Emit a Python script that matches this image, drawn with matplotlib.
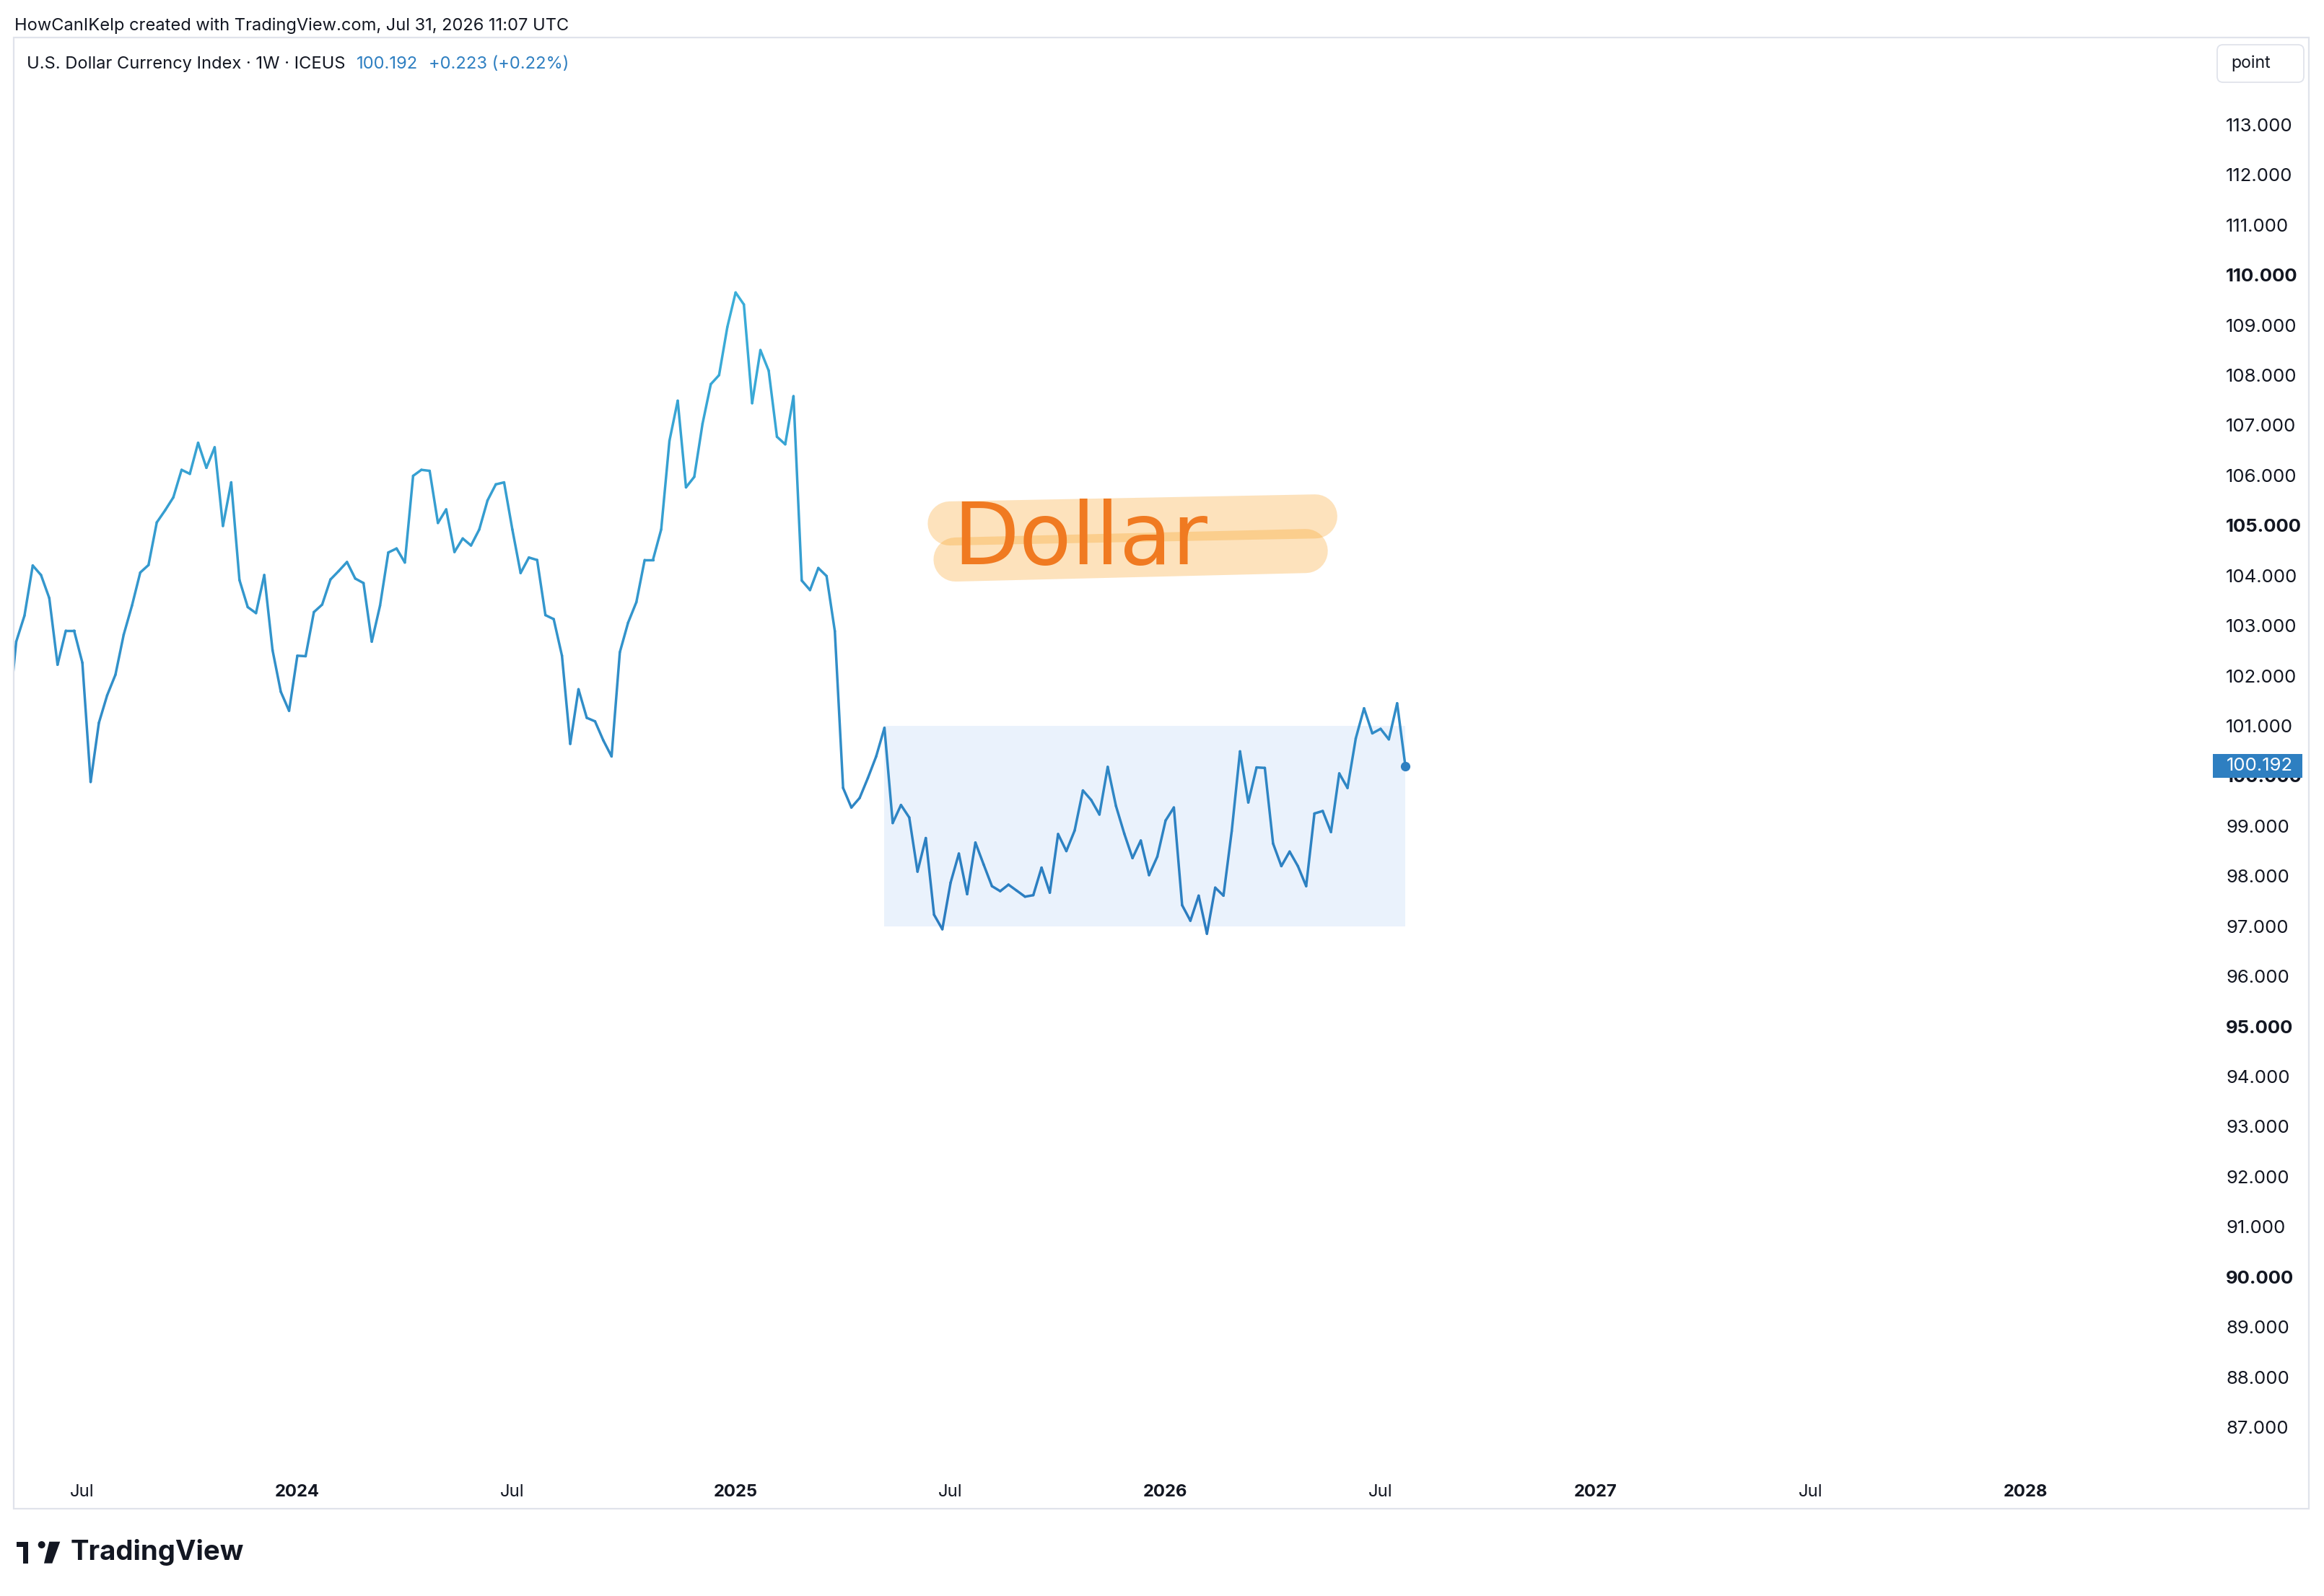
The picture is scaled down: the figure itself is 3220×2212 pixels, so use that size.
import numpy as np
import pandas as pd
import matplotlib
matplotlib.use("Agg")
import matplotlib.pyplot as plt
import matplotlib.dates as mdates
from matplotlib.collections import LineCollection
from matplotlib.colors import LinearSegmentedColormap
from matplotlib.patches import Rectangle, FancyBboxPatch, Polygon, Circle
from matplotlib.transforms import IdentityTransform

plt.rcParams['font.family'] = ['Inter', 'DejaVu Sans']

# ---------------- data ----------------
start_week = "2023-05-01"          # weekly bars (Mondays)
dxy_close = [
    101.03, 102.68, 103.20, 104.20, 104.01, 103.55, 102.22, 102.90, 102.90, 102.26,
    99.88, 101.06, 101.61, 102.02, 102.82, 103.40, 104.06, 104.21, 105.06, 105.30,
    105.56, 106.11, 106.03, 106.65, 106.15, 106.56, 104.99, 105.86, 103.91, 103.37,
    103.25, 104.01, 102.51, 101.68, 101.30, 102.40, 102.39, 103.27, 103.42, 103.92,
    104.09, 104.27, 103.94, 103.85, 102.68, 103.40, 104.46, 104.54, 104.26, 105.99,
    106.11, 106.09, 105.05, 105.32, 104.47, 104.74, 104.60, 104.92, 105.50, 105.82,
    105.86, 104.92, 104.05, 104.36, 104.31, 103.21, 103.13, 102.40, 100.64, 101.73,
    101.16, 101.09, 100.71, 100.39, 102.47, 103.06, 103.47, 104.31, 104.31, 104.92,
    106.69, 107.49, 105.76, 105.97, 107.03, 107.82, 108.00, 108.96, 109.65, 109.41,
    107.44, 108.50, 108.09, 106.77, 106.62, 107.58, 103.90, 103.71, 104.15, 103.99,
    102.89, 99.76, 99.37, 99.56, 99.96, 100.39, 100.96, 99.06, 99.42, 99.17,
    98.09, 98.76, 97.23, 96.94, 97.87, 98.45, 97.64, 98.67, 98.23, 97.80,
    97.70, 97.83, 97.71, 97.59, 97.62, 98.17, 97.67, 98.84, 98.50, 98.91,
    99.71, 99.52, 99.23, 100.18, 99.40, 98.85, 98.36, 98.71, 98.02, 98.39,
    99.11, 99.37, 97.42, 97.11, 97.61, 96.85, 97.77, 97.61, 98.90, 100.49,
    99.47, 100.17, 100.16, 98.65, 98.20, 98.49, 98.20, 97.80, 99.25, 99.30,
    98.88, 100.05, 99.76, 100.75, 101.35, 100.85, 100.94, 100.73, 101.45, 100.192,
]
last_price = "100.192"
change_text = "+0.223 (+0.22%)"
title_text = "U.S. Dollar Currency Index · 1W · ICEUS"
header_text = "HowCanIKelp created with TradingView.com, Jul 31, 2026 11:07 UTC"

range_box_start = "2025-05-12"
range_box_end = "2026-07-27"
range_box_low = 97.0
range_box_high = 101.0

y_ticks = list(range(87, 114))
x_tick_dates = ["2023-07-01", "2024-01-01", "2024-07-01", "2025-01-01", "2025-07-01",
                "2026-01-01", "2026-07-01", "2027-01-01", "2027-07-01", "2028-01-01"]
x_tick_labels = ["Jul", "2024", "Jul", "2025", "Jul", "2026", "Jul", "2027", "Jul", "2028"]

# ---------------- figure ----------------
W, H, DPI = 3220, 2212, 100
fig = plt.figure(figsize=(W / DPI, H / DPI), dpi=DPI, facecolor='white')
PX = IdentityTransform()
TXT = '#131722'
BLUE = '#2E7FC1'
renderer = fig.canvas.get_renderer()


def py(y):
    return H - y


def size_for(s, width_px, weight='normal', base=17.0):
    t = fig.text(0, 0, s, fontsize=base, fontweight=weight)
    w = t.get_window_extent(renderer).width
    t.remove()
    return base * width_px / w if w > 0 else base


def fit(t, width_px):
    bb = t.get_window_extent(renderer)
    if bb.width > 0:
        t.set_fontsize(t.get_fontsize() * width_px / bb.width)


ytick_fs = size_for("113.000", 93)
xtick_fs = size_for("2024", 62, weight='bold')

ax_left, ax_right, ax_top, ax_bottom = 20, 3062, 53, 2035
ax = fig.add_axes([ax_left / W, 1 - ax_bottom / H, (ax_right - ax_left) / W, (ax_bottom - ax_top) / H])
ax.set_facecolor('white')
for s in ax.spines.values():
    s.set_visible(False)

dates = pd.date_range(start_week, periods=len(dxy_close), freq='W-MON')
xn = mdates.date2num(dates.to_pydatetime())
yv = np.array(dxy_close, dtype=float)
week0 = xn[1]


def idx(i):
    return week0 + 7.0 * i


# range rectangle
bx0 = mdates.date2num(pd.Timestamp(range_box_start).to_pydatetime())
bx1 = mdates.date2num(pd.Timestamp(range_box_end).to_pydatetime())
ax.add_patch(Rectangle((bx0, range_box_low), bx1 - bx0, range_box_high - range_box_low,
                       facecolor='#EAF2FC', edgecolor='none', zorder=1))

# gradient line
pts = np.column_stack([xn, yv])
segs = np.stack([pts[:-1], pts[1:]], axis=1)
mid = (yv[:-1] + yv[1:]) / 2
cmap = LinearSegmentedColormap.from_list('tv', ['#2B7BBF', '#3BAFD9'])
norm = plt.Normalize(yv.min(), yv.max())
lc = LineCollection(segs, colors=cmap(norm(mid)), linewidths=2.5,
                    capstyle='round', joinstyle='round', zorder=3)
ax.add_collection(lc)
ax.plot(xn[-1], yv[-1], 'o', color=BLUE, ms=8.5, zorder=4, clip_on=False)

# highlighter strokes + handwritten label
HL = '#F9A123'
ax.plot([idx(112.9), idx(157.1)], [105.04, 105.18], color=HL, alpha=0.3, lw=44,
        solid_capstyle='round', zorder=2)
ax.plot([idx(113.6), idx(155.95)], [104.32, 104.49], color=HL, alpha=0.3, lw=44,
        solid_capstyle='round', zorder=2)
dollar = ax.text(idx(128.7), 104.70, "Dollar", color='#F07A21', ha='center', va='center',
                 fontsize=70, family=['DejaVu Sans'], fontweight='normal', zorder=5)

# axes limits / ticks
ax.set_xlim(idx(-0.214), idx(265.3))
ax.set_ylim(86.18, 114.725)
ax.set_yticks(y_ticks)
ax.set_yticklabels([f"{v:.3f}" for v in y_ticks])
ax.yaxis.tick_right()
ax.tick_params(axis='y', length=0, pad=22 * 0.72, labelsize=ytick_fs, labelcolor=TXT)
for lab, v in zip(ax.get_yticklabels(), y_ticks):
    if v % 5 == 0:
        lab.set_fontweight('bold')

tick_pos = []
for d in x_tick_dates:
    t = pd.Timestamp(d)
    t = t + pd.Timedelta(days=(7 - t.weekday()) % 7)
    tick_pos.append(mdates.date2num(t.to_pydatetime()))
ax.set_xticks(tick_pos)
ax.set_xticklabels(x_tick_labels)
ax.tick_params(axis='x', length=0, pad=16, labelsize=xtick_fs, labelcolor=TXT)
for lab, t in zip(ax.get_xticklabels(), x_tick_labels):
    if t.isdigit():
        lab.set_fontweight('bold')
ax.grid(False)

# ---------------- decorations ----------------
fig.add_artist(Rectangle((19, py(2091)), 3180, 2039, transform=PX, fill=False,
                         edgecolor='#E0E3EB', lw=1.6, zorder=0.5))

hdr = fig.text(20, py(36), header_text, transform=PX, ha='left', va='center',
               fontsize=18.5, color=TXT)
ttl = fig.text(37, py(89), title_text, transform=PX, ha='left', va='center',
               fontsize=18, color=TXT)
val1 = fig.text(494, py(89), last_price, transform=PX, ha='left', va='center',
                fontsize=18, color=BLUE)
val2 = fig.text(594, py(89), change_text, transform=PX, ha='left', va='center',
                fontsize=18, color=BLUE)

fig.add_artist(FancyBboxPatch((3072, py(114)), 120, 52, boxstyle='round,pad=0,rounding_size=8',
                              transform=PX, facecolor='white', edgecolor='#E0E3EB', lw=1.3))
pt_txt = fig.text(3119, py(88), "point", transform=PX, ha='center', va='center',
                  fontsize=17, color=TXT)

fig.add_artist(Rectangle((3066, py(1078)), 124, 33, transform=PX, facecolor=BLUE,
                         edgecolor='none', zorder=5))
fig.text(3085, py(1061.5), last_price, transform=PX, ha='left', va='center', fontsize=ytick_fs,
         color='white', zorder=6)

# TradingView logo
fig.add_artist(Polygon([(23.3, py(2136.7)), (39, py(2136.7)), (39, py(2166.7)),
                        (31.7, py(2166.7)), (31.7, py(2144.3)), (23.3, py(2144.3))],
                       closed=True, transform=PX, facecolor=TXT, edgecolor='none'))
fig.add_artist(Circle((57.7, py(2141)), 5, transform=PX, facecolor=TXT, edgecolor='none'))
fig.add_artist(Polygon([(68.3, py(2136.7)), (83.3, py(2136.7)), (72.3, py(2166.7)),
                        (61, py(2166.7))], closed=True, transform=PX,
                       facecolor=TXT, edgecolor='none'))
logo = fig.text(98, py(2152), "TradingView", transform=PX, ha='left', va='center',
                fontsize=34, fontweight='bold', color=TXT)

fit(hdr, 768)
fit(ttl, 441)
val1.set_fontsize(ttl.get_fontsize())
val2.set_fontsize(ttl.get_fontsize())
fit(pt_txt, 55)
fit(logo, 241)
fit(dollar, 353)

fig.savefig("out.png", dpi=DPI, facecolor='white')
